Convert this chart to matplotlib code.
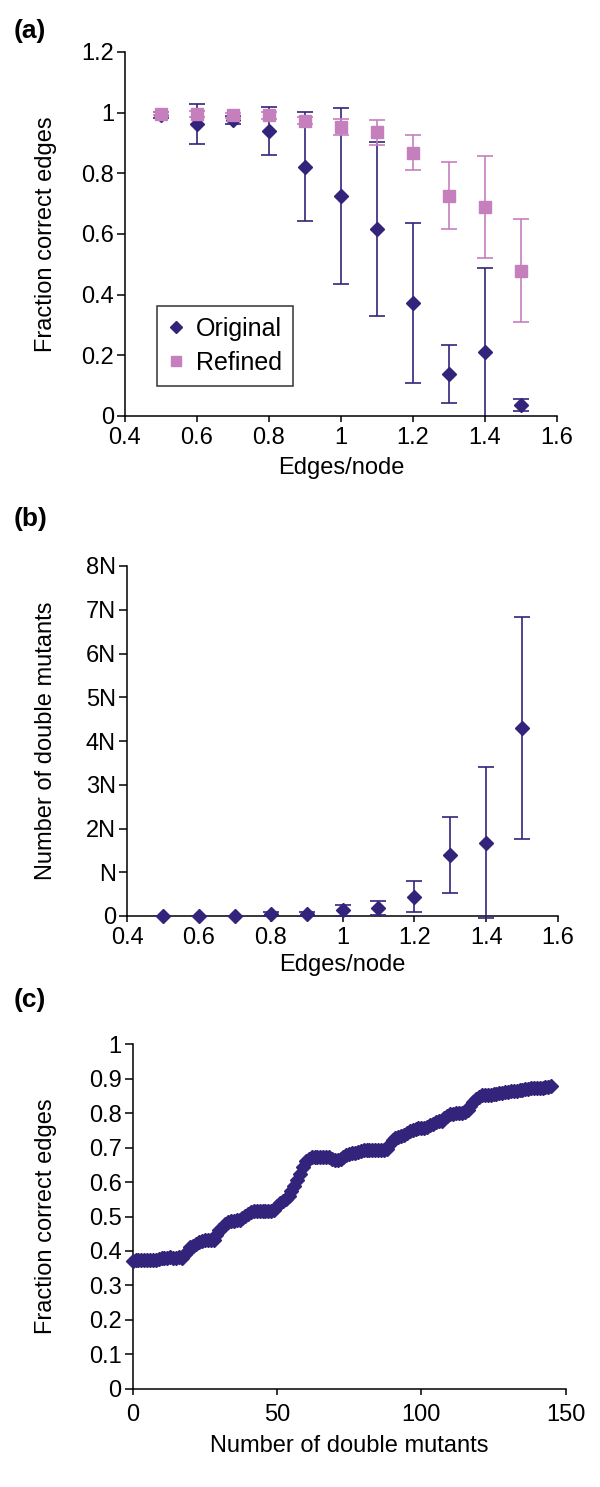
import matplotlib
matplotlib.use("Agg")
import matplotlib.pyplot as plt
import numpy as np

plt.rcParams['font.family'] = ['Liberation Sans', 'DejaVu Sans']

# ---------------- data ----------------
edges_per_node = [0.5, 0.6, 0.7, 0.8, 0.9, 1.0, 1.1, 1.2, 1.3, 1.4, 1.5]

orig_frac = [0.993, 0.962, 0.977, 0.940, 0.822, 0.724, 0.617, 0.373, 0.138, 0.212, 0.036]
orig_err = [0.010, 0.065, 0.013, 0.080, 0.180, 0.290, 0.287, 0.263, 0.095, 0.277, 0.020]

refined_frac = [0.997, 0.997, 0.992, 0.991, 0.973, 0.954, 0.935, 0.868, 0.726, 0.688, 0.479]
refined_err = [0.005, 0.010, 0.008, 0.012, 0.012, 0.026, 0.040, 0.058, 0.110, 0.168, 0.170]

# number of double mutants in units of N
dm_mean = [0.00, 0.00, 0.00, 0.05, 0.05, 0.13, 0.19, 0.44, 1.39, 1.68, 4.30]
dm_err = [0.01, 0.01, 0.01, 0.04, 0.05, 0.13, 0.16, 0.35, 0.87, 1.72, 2.53]

n_double = list(range(146))
frac_vs_n = [
    0.371, 0.374, 0.374, 0.375, 0.374, 0.374, 0.375, 0.374, 0.375, 0.376,
    0.379, 0.380, 0.380, 0.381, 0.380, 0.380, 0.381, 0.380, 0.392, 0.400,
    0.410, 0.414, 0.420, 0.425, 0.430, 0.433, 0.432, 0.433, 0.432, 0.445,
    0.460, 0.468, 0.478, 0.485, 0.487, 0.488, 0.490, 0.491, 0.495, 0.502,
    0.508, 0.512, 0.515, 0.516, 0.517, 0.516, 0.517, 0.516, 0.516, 0.520,
    0.530, 0.540, 0.546, 0.552, 0.560, 0.575, 0.590, 0.605, 0.622, 0.645,
    0.660, 0.668, 0.672, 0.674, 0.673, 0.674, 0.673, 0.674, 0.672, 0.668,
    0.665, 0.664, 0.666, 0.673, 0.678, 0.681, 0.683, 0.684, 0.686, 0.690,
    0.692, 0.693, 0.693, 0.694, 0.693, 0.694, 0.693, 0.694, 0.695, 0.710,
    0.722, 0.728, 0.731, 0.733, 0.737, 0.742, 0.748, 0.752, 0.755, 0.756,
    0.757, 0.757, 0.760, 0.765, 0.770, 0.774, 0.776, 0.778, 0.785, 0.792,
    0.797, 0.799, 0.800, 0.800, 0.801, 0.803, 0.810, 0.822, 0.832, 0.842,
    0.848, 0.852, 0.853, 0.853, 0.854, 0.855, 0.857, 0.858, 0.860, 0.861,
    0.862, 0.863, 0.864, 0.864, 0.866, 0.868, 0.870, 0.871, 0.872, 0.872,
    0.873, 0.873, 0.874, 0.875, 0.876, 0.879,
]

ticks_a = [0.4, 0.6, 0.8, 1.0, 1.2, 1.4, 1.6]
ytick_a = [0, 0.2, 0.4, 0.6, 0.8, 1.0, 1.2]
ytick_a_lbl = ['0', '0.2', '0.4', '0.6', '0.8', '1', '1.2']
xtick_a_lbl = ['0.4', '0.6', '0.8', '1', '1.2', '1.4', '1.6']
ytick_b = list(range(9))
ytick_b_lbl = ['0', 'N', '2N', '3N', '4N', '5N', '6N', '7N', '8N']
xtick_c = [0, 50, 100, 150]
ytick_c = [0, 0.1, 0.2, 0.3, 0.4, 0.5, 0.6, 0.7, 0.8, 0.9, 1.0]
ytick_c_lbl = ['0', '0.1', '0.2', '0.3', '0.4', '0.5', '0.6', '0.7', '0.8', '0.9', '1']

# ---------------- style ----------------
PURPLE = '#34237a'
PINK = '#c67fbd'
FS = 17
LFS = 18

W, H = 600, 1487
fig = plt.figure(figsize=(W / 100, H / 100), dpi=100)

def box(l, t, r, b):
    return [l / W, 1 - b / H, (r - l) / W, (b - t) / H]

def style(ax, xpad=4):
    for s in ['top', 'right']:
        ax.spines[s].set_visible(False)
    for s in ['left', 'bottom']:
        ax.spines[s].set_linewidth(1.1)
    ax.tick_params(direction='out', width=1.1, labelsize=FS)
    ax.tick_params(axis='y', length=5.5, pad=2.5)
    ax.tick_params(axis='x', length=4, pad=xpad)

# ---- (a) ----
axa = fig.add_axes(box(125, 52, 557, 416))
style(axa)
axa.errorbar(edges_per_node, orig_frac, yerr=orig_err, fmt='D', color=PURPLE,
             ms=7.5, capsize=5.8, elinewidth=1.2, capthick=1.2, label='Original', zorder=2)
axa.errorbar(edges_per_node, refined_frac, yerr=refined_err, fmt='s', color=PINK,
             ms=8, capsize=5.8, elinewidth=1.2, capthick=1.2, label='Refined', zorder=3)
axa.set_xlim(0.4, 1.6)
axa.set_ylim(0, 1.2)
axa.set_xticks(ticks_a)
axa.set_xticklabels(xtick_a_lbl)
axa.set_yticks(ytick_a)
axa.set_yticklabels(ytick_a_lbl)
axa.set_xlabel('Edges/node', fontsize=FS)
axa.set_ylabel('Fraction correct edges', fontsize=FS)
axa.yaxis.set_label_coords(-0.157, 0.5)
axa.xaxis.set_label_coords(0.5, -0.112)
h, l = axa.get_legend_handles_labels()
h = [hh[0] for hh in h]
leg = axa.legend(h, l, loc='lower left', bbox_to_anchor=(0.074, 0.082), borderaxespad=0,
                 fontsize=LFS, frameon=True, fancybox=False, edgecolor='black',
                 handlelength=0.6, handletextpad=0.5, borderpad=0.45, labelspacing=0.4,
                 markerscale=0.85)
leg.get_frame().set_linewidth(1.1)
fig.text(14 / W, 1 - 31 / H, '(a)', fontsize=19, fontweight='bold', va='center', ha='left')

# ---- (b) ----
axb = fig.add_axes(box(127, 566, 558, 916))
style(axb)
axb.errorbar(edges_per_node, dm_mean, yerr=dm_err, fmt='D', color=PURPLE,
             ms=7.5, capsize=5.8, elinewidth=1.2, capthick=1.2, clip_on=False, zorder=3)
axb.set_xlim(0.4, 1.6)
axb.set_ylim(0, 8)
axb.set_xticks(ticks_a)
axb.set_xticklabels(xtick_a_lbl)
axb.set_yticks(ytick_b)
axb.set_yticklabels(ytick_b_lbl)
axb.set_xlabel('Edges/node', fontsize=FS)
axb.set_ylabel('Number of double mutants', fontsize=FS)
axb.yaxis.set_label_coords(-0.162, 0.5)
axb.xaxis.set_label_coords(0.5, -0.11)
fig.text(14 / W, 1 - 519 / H, '(b)', fontsize=19, fontweight='bold', va='center', ha='left')

# ---- (c) ----
axc = fig.add_axes(box(132.7, 1044.3, 565.7, 1388.7))
style(axc, xpad=7)
axc.plot(n_double, frac_vs_n, 'D', color=PURPLE, ms=7.5, mec=PURPLE, clip_on=False, zorder=3)
axc.set_xlim(0, 150)
axc.set_ylim(0, 1)
axc.set_xticks(xtick_c)
axc.set_yticks(ytick_c)
axc.set_yticklabels(ytick_c_lbl)
axc.set_xlabel('Number of double mutants', fontsize=FS)
axc.set_ylabel('Fraction correct edges', fontsize=FS)
axc.yaxis.set_label_coords(-0.175, 0.5)
axc.xaxis.set_label_coords(0.5, -0.135)
fig.text(14 / W, 1 - 1000 / H, '(c)', fontsize=19, fontweight='bold', va='center', ha='left')

fig.savefig('out.png', dpi=100)
